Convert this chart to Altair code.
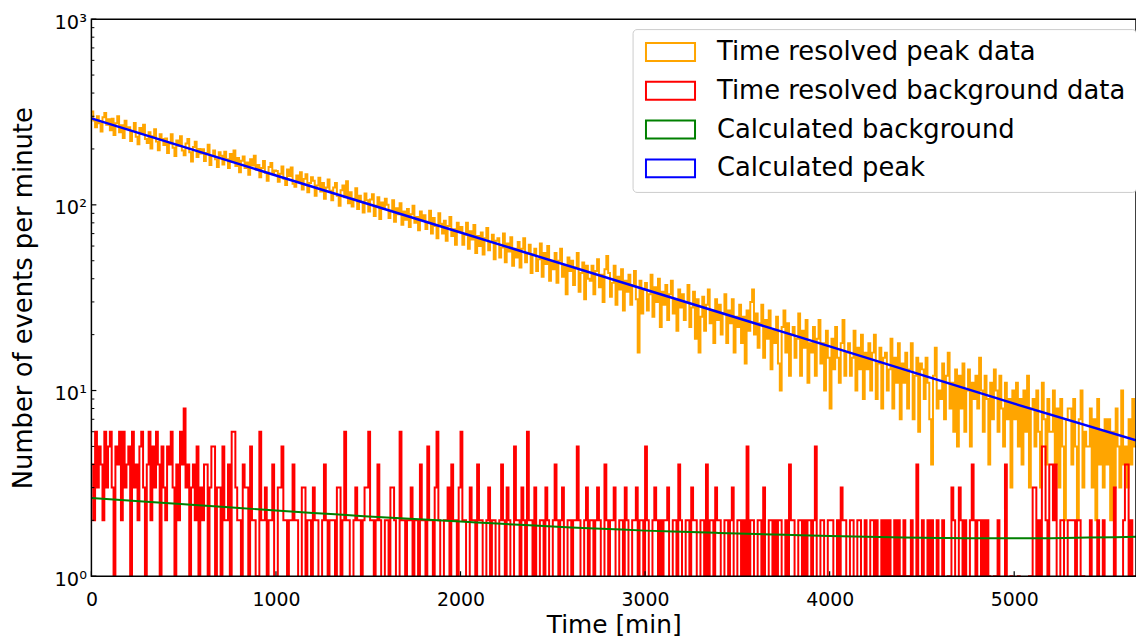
import altair as alt
import pandas as pd

# ---------------- data ----------------
BIN_MIN = 10          # width of one histogram bin [min]
X_MAX = 5660          # right end of the time axis [min]

# Time resolved peak data, one value per 10-min bin, starting at t = 0
peak_counts = [
    318, 285, 262, 300, 275, 248, 296, 312, 270, 289,
    252, 291, 238, 275, 300, 246, 268, 229, 284, 259,
    262, 221, 250, 276, 233, 212, 259, 241, 270, 226,
    215, 246, 201, 234, 255, 219, 197, 240, 226, 210,
    228, 190, 214, 240, 203, 183, 222, 208, 234, 196,
    185, 214, 226, 192, 171, 205, 219, 181, 200, 189,
    199, 172, 190, 211, 164, 183, 196, 176, 160, 192,
    184, 165, 193, 176, 158, 188, 170, 196, 162, 179,
    150, 173, 182, 158, 169, 145, 176, 163, 184, 155,
    164, 141, 158, 172, 149, 135, 160, 168, 146, 153,
    152, 133, 147, 161, 138, 128, 155, 143, 159, 130,
    125, 144, 133, 150, 121, 138, 146, 117, 131, 141,
    135, 112, 127, 140, 118, 131, 108, 124, 137, 119,
    106, 124, 131, 112, 99, 120, 127, 110, 134, 102,
    117, 98, 108, 123, 95, 112, 104, 91, 115, 106,
    92, 107, 114, 87, 99, 110, 84, 103, 95, 108,
    100, 85, 93, 106, 81, 96, 89, 102, 78, 92,
    83, 95, 76, 89, 99, 80, 86, 73, 92, 84,
    88, 74, 81, 93, 70, 85, 77, 66, 90, 79,
    70, 82, 64, 77, 86, 68, 74, 61, 80, 72,
    76, 61, 69, 80, 58, 72, 65, 78, 55, 68,
    60, 71, 54, 66, 75, 57, 63, 69, 51, 64,
    66, 52, 59, 70, 49, 62, 56, 67, 47, 58,
    52, 63, 46, 58, 66, 49, 55, 61, 43, 54,
    58, 44, 51, 62, 41, 55, 48, 60, 39, 50,
    45, 55, 38, 50, 58, 41, 47, 33, 52, 44,
    50, 37, 46, 55, 34, 43, 49, 31, 47, 40,
    39, 47, 33, 44, 51, 36, 42, 30, 45, 53,
    43, 32, 38, 47, 29, 41, 35, 45, 27, 39,
    34, 42, 29, 37, 44, 31, 16, 39, 26, 35,
    38, 27, 33, 42, 25, 36, 30, 40, 22, 34,
    29, 37, 24, 33, 39, 26, 31, 21, 35, 28,
    33, 24, 30, 37, 22, 28, 34, 19, 31, 16,
    25, 32, 21, 29, 35, 23, 27, 18, 31, 24,
    29, 20, 26, 33, 18, 27, 23, 31, 16, 25,
    22, 29, 18, 25, 14, 27, 21, 30, 35, 20,
    26, 17, 23, 29, 15, 24, 19, 27, 13, 21,
    18, 25, 14, 10, 22, 27, 16, 23, 12, 20,
    22, 15, 19, 26, 12, 21, 17, 24, 11, 18,
    16, 22, 12, 19, 24, 14, 18, 10, 21, 15,
    8, 19, 13, 22, 15, 11, 18, 24, 12, 16,
    18, 12, 15, 21, 10, 17, 13, 20, 9, 16,
    13, 18, 10, 16, 20, 9, 14, 17, 8, 15,
    16, 10, 13, 19, 8, 15, 11, 18, 7, 14,
    11, 16, 8, 13, 18, 7, 12, 15, 6, 14,
    13, 9, 15, 11, 7, 4, 12, 17, 8, 10,
    9, 14, 7, 12, 16, 8, 11, 6, 13, 5,
    12, 8, 14, 6, 10, 13, 5, 11, 9, 12,
    8, 15, 10, 6, 12, 9, 4, 11, 7, 13,
    10, 6, 12, 8, 5, 11, 7, 9, 3, 10,
    7, 11, 5, 9, 4, 10, 6, 12, 3, 8,
    9, 5, 10, 6, 3, 11, 7, 4, 9, 6,
    6, 10, 4, 8, 3, 9, 5, 2, 7, 8,
    8, 4, 9, 5, 2, 7, 10, 3, 6, 5,
    5, 8, 3, 7, 2, 9, 4, 6, 3, 7,
    4, 7, 2, 6, 3, 8, 5, 3, 10, 4,
    5, 3, 7, 4, 9, 5,
]

# Time resolved background data, one value per 10-min bin, starting at t = 0
bkg_counts = [
    4, 2, 6, 3, 5, 4, 2, 6, 3, 5,
    6, 3, 1, 5, 4, 6, 2, 6, 3, 4,
    5, 1, 6, 3, 4, 2, 5, 6, 3, 1,
    4, 6, 2, 5, 3, 6, 4, 1, 5, 3,
    2, 5, 4, 6, 3, 1, 4, 2, 6, 4,
    8, 3, 4, 1, 3, 4, 2, 5, 1, 3,
    2, 4, 4, 1, 3, 5, 5, 0, 3, 3,
    1, 5, 2, 2, 4, 0, 6, 6, 3, 2,
    2, 0, 4, 3, 3, 0, 5, 2, 2, 0,
    1, 6, 2, 2, 3, 0, 2, 2, 4, 0,
    0, 3, 3, 5, 2, 2, 0, 2, 2, 4,
    2, 2, 0, 0, 3, 3, 1, 2, 2, 0,
    3, 2, 2, 0, 0, 2, 4, 2, 0, 2,
    2, 2, 0, 3, 3, 0, 2, 6, 2, 2,
    0, 0, 2, 3, 2, 2, 0, 2, 3, 3,
    6, 2, 2, 0, 2, 4, 2, 0, 0, 2,
    2, 0, 3, 3, 2, 0, 0, 6, 2, 2,
    0, 2, 2, 3, 0, 2, 2, 0, 4, 2,
    2, 0, 5, 2, 2, 0, 3, 6, 2, 0,
    0, 2, 2, 3, 0, 4, 2, 2, 0, 3,
    6, 2, 2, 0, 0, 3, 2, 2, 0, 4,
    2, 2, 0, 0, 2, 3, 0, 2, 2, 0,
    0, 2, 4, 2, 0, 3, 2, 0, 0, 5,
    2, 2, 0, 3, 2, 0, 6, 2, 2, 0,
    3, 0, 0, 2, 2, 0, 3, 2, 0, 0,
    2, 4, 2, 0, 2, 3, 0, 0, 2, 2,
    0, 2, 2, 5, 2, 0, 0, 2, 3, 0,
    2, 2, 0, 2, 3, 2, 0, 0, 4, 2,
    0, 2, 2, 3, 0, 0, 2, 2, 0, 3,
    2, 0, 0, 2, 2, 3, 0, 2, 2, 0,
    5, 2, 0, 0, 2, 3, 2, 0, 2, 0,
    2, 2, 3, 0, 0, 2, 2, 0, 4, 2,
    0, 0, 2, 2, 0, 3, 2, 2, 0, 0,
    2, 2, 0, 4, 0, 2, 2, 0, 3, 2,
    2, 0, 0, 2, 2, 0, 2, 3, 0, 0,
    2, 2, 0, 2, 0, 5, 0, 2, 2, 0,
    0, 2, 2, 0, 3, 0, 0, 2, 2, 0,
    2, 0, 2, 2, 0, 0, 2, 0, 4, 2,
    2, 0, 0, 2, 2, 0, 2, 0, 2, 2,
    0, 2, 5, 0, 0, 2, 2, 0, 0, 2,
    2, 2, 0, 0, 2, 0, 3, 2, 2, 0,
    0, 2, 2, 0, 0, 2, 2, 0, 0, 2,
    0, 0, 2, 2, 0, 2, 0, 0, 2, 0,
    2, 0, 2, 1, 0, 2, 0, 2, 1, 0,
    2, 0, 1, 0, 2, 0, 0, 4, 1, 0,
    2, 0, 0, 2, 0, 2, 0, 1, 2, 0,
    0, 2, 0, 0, 1, 0, 3, 2, 0, 0,
    3, 2, 0, 2, 0, 0, 2, 4, 2, 0,
    2, 2, 0, 2, 0, 2, 1, 0, 0, 1,
    0, 2, 0, 0, 0, 4, 0, 0, 1, 0,
    0, 0, 1, 0, 0, 0, 0, 0, 1, 0,
    3, 3, 0, 2, 0, 5, 5, 2, 0, 4,
    4, 2, 4, 0, 0, 2, 2, 0, 0, 2,
    2, 2, 2, 0, 2, 2, 0, 1, 0, 0,
    0, 2, 0, 0, 0, 2, 0, 0, 2, 0,
    0, 0, 0, 0, 3, 0, 0, 0, 0, 2,
    4, 4, 0, 2, 0, 1,
]

# Calculated background (green curve), read at these times
calc_bkg_t = [0, 200, 400, 600, 800, 1000, 1200, 1400, 1600, 1800, 2000, 2200, 2400,
              2600, 2800, 3000, 3200, 3400, 3600, 3800, 4000, 4200, 4400, 4600, 4800,
              5000, 5200, 5400, 5660]
calc_bkg_v = [2.64, 2.56, 2.48, 2.40, 2.33, 2.26, 2.19, 2.13, 2.07, 2.02, 1.97, 1.92, 1.875,
              1.83, 1.795, 1.76, 1.734, 1.71, 1.687, 1.667, 1.648, 1.633, 1.618, 1.607, 1.60,
              1.60, 1.603, 1.614, 1.63]

# Calculated peak (blue line), read at these times
calc_peak_t = [0, 1000, 2000, 3000, 4000, 5000, 5660]
calc_peak_v = [292, 144, 71, 35, 17.3, 8.5, 5.4]

series_names = [
    "Time resolved peak data",
    "Time resolved background data",
    "Calculated background",
    "Calculated peak",
]
series_colors = ["#FFA500", "#FF0000", "#008000", "#0000FF"]

x_tick_values = [0, 1000, 2000, 3000, 4000, 5000]
y_major_ticks = [1, 10, 100, 1000]
y_minor_ticks = [m * 10 ** k for k in range(3) for m in range(2, 10)]

# ---------------- layout ----------------
W = 1052
H = 561
FONT = "DejaVu Sans"


def step_frame(values, name, floor=None):
    vals = [(v if (floor is None or v > 0) else floor) for v in values]
    edges = [i * BIN_MIN for i in range(len(vals) + 1)]
    return pd.DataFrame({"t": edges, "v": vals + vals[-1:], "series": name})


peak_df = step_frame(peak_counts, series_names[0])
bkg_df = step_frame(bkg_counts, series_names[1], floor=0.5)
cbkg_df = pd.DataFrame({"t": calc_bkg_t, "v": calc_bkg_v, "series": series_names[2]})
cpeak_df = pd.DataFrame({"t": calc_peak_t, "v": calc_peak_v, "series": series_names[3]})

y_label_expr = (
    "datum.value == 1 ? '10\u2070' : datum.value == 10 ? '10\u00b9' : "
    "datum.value == 100 ? '10\u00b2' : '10\u00b3'"
)


def xenc():
    return alt.X(
        "t:Q",
        scale=alt.Scale(domain=[0, X_MAX], nice=False, zero=False),
        axis=alt.Axis(
            values=x_tick_values, format="d", title="Time [min]",
            ticks=False, tickSize=0, domain=False, grid=False,
            labelFlush=False, labelPadding=14, labelFontSize=19,
            titleFontSize=25, titlePadding=4,
        ),
    )


def yenc():
    return alt.Y(
        "v:Q",
        scale=alt.Scale(type="log", domain=[1, 1000], nice=False),
        axis=alt.Axis(
            values=y_major_ticks, labelExpr=y_label_expr,
            title="Number of events per minute",
            ticks=False, tickSize=0, domain=False, grid=False,
            labelPadding=5, labelFontSize=19.5, labelOffset=3,
            titleFontSize=26, titlePadding=18,
        ),
    )


color_enc = alt.Color(
    "series:N",
    scale=alt.Scale(domain=series_names, range=series_colors),
    legend=alt.Legend(
        title=None, orient="none", legendX=545, legendY=10,
        direction="vertical",
        symbolType="M-1,-0.95L4.2,-0.95L4.2,0.95L-1,0.95Z",
        symbolSize=361, symbolStrokeWidth=2, symbolFillColor="transparent",
        labelFontSize=26, labelLimit=600, labelOffset=49,
        rowPadding=11.1, padding=10,
        fillColor="white", strokeColor="#cccccc", cornerRadius=4,
    ),
)

peak_layer = alt.Chart(peak_df).mark_line(
    interpolate="step-after", strokeWidth=2, clip=True
).encode(x=xenc(), y=yenc(), color=color_enc)

bkg_layer = alt.Chart(bkg_df).mark_line(
    interpolate="step-after", strokeWidth=2, clip=True
).encode(x=xenc(), y=yenc(), color=color_enc)

cbkg_layer = alt.Chart(cbkg_df).mark_line(
    strokeWidth=2, clip=True, interpolate="monotone"
).encode(x=xenc(), y=yenc(), color=color_enc)

cpeak_layer = alt.Chart(cpeak_df).mark_line(strokeWidth=2.5, clip=True).encode(
    x=xenc(), y=yenc(), color=color_enc
)

# inward ticks
y_major_layer = alt.Chart(pd.DataFrame({"v": y_major_ticks})).mark_rule(
    color="black", strokeWidth=1.2
).encode(y=yenc(), x=alt.value(0), x2=alt.value(5))

y_minor_layer = alt.Chart(pd.DataFrame({"v": y_minor_ticks})).mark_rule(
    color="black", strokeWidth=1
).encode(y=yenc(), x=alt.value(0), x2=alt.value(3))

x_tick_layer = alt.Chart(pd.DataFrame({"t": x_tick_values})).mark_rule(
    color="black", strokeWidth=1.2
).encode(x=xenc(), y=alt.value(H), y2=alt.value(H - 5))

frame_layer = alt.Chart(pd.DataFrame({"k": [0]})).mark_rect(
    fillOpacity=0, stroke="black", strokeWidth=1.5
).encode(x=alt.value(0), x2=alt.value(W), y=alt.value(0), y2=alt.value(H))

chart = (
    alt.layer(
        peak_layer, bkg_layer, cbkg_layer, cpeak_layer,
        y_major_layer, y_minor_layer, x_tick_layer, frame_layer,
    )
    .properties(
        width=W, height=H,
        autosize=alt.AutoSizeParams(type="none"),
        padding={"left": 84, "top": 9, "right": 0, "bottom": 62},
        background="white",
    )
    .configure(font=FONT)
    .configure_view(stroke="transparent")
    .configure_axis(
        labelFont=FONT, titleFont=FONT, labelColor="black", titleColor="black",
        titleFontWeight="normal",
    )
    .configure_legend(labelFont=FONT, labelColor="black")
)

chart.save("out.html", embed_options={"renderer": "svg", "actions": False})
